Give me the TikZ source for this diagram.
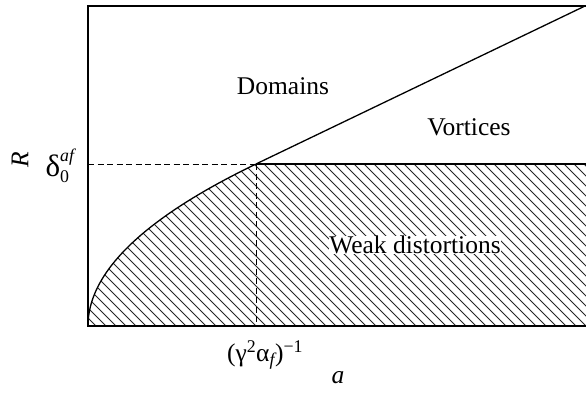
\documentclass[tikz,border=0pt]{standalone}
\usepackage{amsmath}
\usepackage{fontspec}
\setmainfont{Liberation Serif}
\begin{document}
\begin{tikzpicture}[x=1pt,y=-1pt,
  lbl/.style={font=\fontsize{25.5}{30}\selectfont, inner sep=1pt},
  frame/.style={line width=2pt},
  bnd/.style={line width=1.3pt},
  hatch/.style={line width=0.8pt, black!85},
  guide/.style={line width=1pt, dash pattern=on 6pt off 3.5pt}]
\useasboundingbox (0,0) rectangle (586,392);
\coordinate (O) at (88,326);
\coordinate (TL) at (88,6);
\coordinate (TR) at (586,6);
\coordinate (BR) at (586,326);
\coordinate (P) at (256,164);
\coordinate (PR) at (586,164);
\coordinate (PL) at (88,164);
\coordinate (PB) at (256,326);
\coordinate (DT) at (585,6);
% hatching
\begin{scope}
  \clip plot[domain=0:1, samples=60, variable=\t] ({88+168*\t*\t},{326-162*\t}) -- (PR) -- (BR) -- cycle;
  \foreach \c in {-200,-190,...,620} {
    \draw[hatch] (\c,150) -- (\c+190,340);
  }
\end{scope}
% boundaries
\draw[bnd] plot[domain=0:1, samples=60, variable=\t] ({88+168*\t*\t},{326-162*\t});
\draw[bnd] (P) -- (PR);
\draw[bnd] (P) -- (DT);
\draw[guide] (PL) -- (P);
\draw[guide] (P) -- (PB);
% frame
\draw[frame] (TR) -- (TL) -- (O) -- (BR);
% labels
\node[lbl] (dom) at (283,86) {Domains};
\node[lbl] (vor) at (469,127) {Vortices};
\node[lbl, fill=white, inner sep=0pt] (weak) at (415,245) {Weak distortions};
\node[lbl, rotate=90] (R) at (20,160) {\itshape R};
\node[lbl] (delta) at (60,166) {$\text{\fontsize{31}{34}\selectfont δ}_{\text{0}}^{\textit{af}}$};
\node[lbl] (gam) at (265,355) {(γ$^{\text{2}}$α$_{\textit{f}}$)$^{\text{−1}}$};
\node[lbl] (a) at (338,378) {\itshape a};
\end{tikzpicture}
\end{document}
